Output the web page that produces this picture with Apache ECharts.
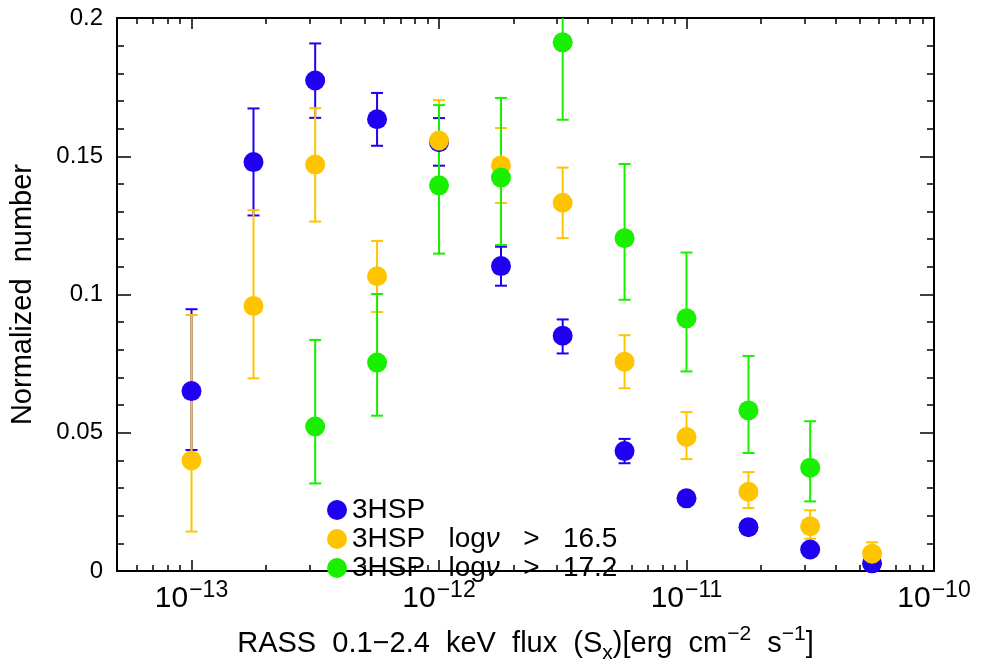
<!DOCTYPE html>
<html>
<head>
<meta charset="utf-8">
<script src="https://cdn.jsdelivr.net/npm/echarts@6/dist/echarts.min.js"></script>
<style>
  html, body { margin: 0; padding: 0; background: #fff; }
  #chart { width: 984px; height: 669px; }
</style>
</head>
<body>
<div id="chart"></div>
<script>
// flux bin centres (erg cm^-2 s^-1)
const fluxBins = [1.0e-13, 1.78e-13, 3.16e-13, 5.62e-13, 1.0e-12, 1.78e-12, 3.16e-12, 5.62e-12, 1.0e-11, 1.78e-11, 3.16e-11, 5.62e-11]

// 3HSP
const allVal = [0.0651, 0.1479, 0.1774, 0.1634, 0.1551, 0.1103, 0.0851, 0.0434, 0.0263, 0.0159, 0.0078, 0.0028]
const allLo  = [0.0438, 0.1286, 0.1639, 0.1538, 0.1466, 0.1032, 0.0787, 0.0390, 0.0243, 0.0145, 0.0068, 0.0020]
const allHi  = [0.0947, 0.1673, 0.1908, 0.1729, 0.1638, 0.1173, 0.0910, 0.0478, 0.0283, 0.0173, 0.0088, 0.0036]

// 3HSP log nu > 16.5
const hspVal = [0.0400, 0.0959, 0.1470, 0.1066, 0.1557, 0.1467, 0.1332, 0.0757, 0.0485, 0.0287, 0.0162, 0.0063]
const hspLo  = [0.0143, 0.0697, 0.1264, 0.0937, 0.1416, 0.1331, 0.1204, 0.0661, 0.0405, 0.0228, 0.0117, 0.0030]
const hspHi  = [0.0926, 0.1305, 0.1674, 0.1194, 0.1703, 0.1602, 0.1459, 0.0853, 0.0575, 0.0358, 0.0220, 0.0104]

// 3HSP log nu > 17.2
const ehspVal = [null, null, 0.0523, 0.0754, 0.1395, 0.1423, 0.1912, 0.1204, 0.0914, 0.0581, 0.0374, null]
const ehspLo  = [null, null, 0.0317, 0.0562, 0.1148, 0.1179, 0.1632, 0.0981, 0.0722, 0.0427, 0.0252, null]
const ehspHi  = [null, null, 0.0836, 0.1002, 0.1685, 0.1711, 0.2200, 0.1472, 0.1152, 0.0778, 0.0542, null]

const seriesNames = ['3HSP', '3HSP   logν   >   16.5', '3HSP   logν   >   17.2']
const colors = ['#2000F0', '#FFC400', '#18F000']

const majorExp = [-13, -12, -11, -10]
const minorMult = [2, 3, 4, 5, 6, 7, 8, 9]

const xMin = Math.log10(5e-14)
const xMax = -10

const minorExp = []
;[-14, -13, -12, -11].forEach(function (e) {
  minorMult.forEach(function (m) {
    const v = e + Math.log10(m)
    if (v > xMin && v < xMax) minorExp.push(v)
  })
})

const FONT = 'Liberation Sans'

function points(vals) {
  return fluxBins.map(function (f, i) {
    return vals[i] == null ? null : [Math.log10(f), vals[i]]
  }).filter(Boolean)
}
function bars(vals, lo, hi) {
  return fluxBins.map(function (f, i) {
    return vals[i] == null ? null : [Math.log10(f), vals[i], lo[i], hi[i]]
  }).filter(Boolean)
}

function errorBarSeries(name, data, color) {
  return {
    type: 'custom',
    name: name,
    data: data,
    clip: true,
    silent: true,
    renderItem: function (params, api) {
      const x = api.value(0)
      const top = api.coord([x, api.value(3)])
      const bot = api.coord([x, api.value(2)])
      const hw = 6
      const style = { stroke: color, lineWidth: 2 }
      return {
        type: 'group',
        children: [
          { type: 'line', shape: { x1: top[0], y1: top[1], x2: bot[0], y2: bot[1] }, style: style },
          { type: 'line', shape: { x1: top[0] - hw, y1: top[1], x2: top[0] + hw, y2: top[1] }, style: style },
          { type: 'line', shape: { x1: bot[0] - hw, y1: bot[1], x2: bot[0] + hw, y2: bot[1] }, style: style }
        ]
      }
    },
    encode: { x: 0, y: 1 }
  }
}

function scatterSeries(name, data, color) {
  return {
    type: 'scatter',
    name: name,
    data: data,
    symbol: 'circle',
    symbolSize: 20,
    clip: false,
    itemStyle: { color: color, opacity: 1 }
  }
}

const groups = [
  [allVal, allLo, allHi],
  [hspVal, hspLo, hspHi],
  [ehspVal, ehspLo, ehspHi]
]
const series = []
groups.forEach(function (g, i) {
  series.push(errorBarSeries('err' + i, bars(g[0], g[1], g[2]), colors[i]))
  series.push(scatterSeries(seriesNames[i], points(g[0]), colors[i]))
})

const axisLineStyle = { color: '#000', width: 2 }

function xAx(position, ticks, len, labels) {
  return {
    type: 'value',
    position: position,
    min: xMin,
    max: xMax,
    axisLine: { show: true, lineStyle: axisLineStyle },
    axisTick: { show: true, inside: true, length: len, customValues: ticks, lineStyle: { color: '#000', width: 1.5 } },
    axisLabel: labels ? {
      show: true,
      customValues: majorExp,
      margin: 8,
      fontFamily: FONT,
      fontSize: 30,
      lineHeight: 40,
      color: '#000',
      formatter: function (v) { return '{b|10}{sup|−' + Math.abs(Math.round(v)) + '}' },
      rich: {
        b: { fontFamily: FONT, fontSize: 30, lineHeight: 40, color: '#000', verticalAlign: 'middle' },
        sup: { fontFamily: FONT, fontSize: 23, lineHeight: 13, color: '#000', verticalAlign: 'top', padding: [0, 0, 0, 1] }
      }
    } : { show: false },
    splitLine: { show: false }
  }
}

const option = {
  animation: false,
  backgroundColor: '#fff',
  grid: { left: 117, right: 50, top: 18, bottom: 93, containLabel: false },
  legend: {
    orient: 'vertical',
    left: 327,
    top: 496,
    padding: 0,
    itemWidth: 20,
    itemHeight: 20,
    itemGap: 1,
    icon: 'circle',
    data: seriesNames,
    selectedMode: false,
    textStyle: {
      fontFamily: FONT,
      fontSize: 28,
      color: '#000',
      lineHeight: 22,
      rich: { i: { fontFamily: FONT, fontSize: 28, fontStyle: 'italic', color: '#000', lineHeight: 22 } }
    },
    formatter: function (name) { return name.replace('ν', '{i|ν}') }
  },
  xAxis: [
    Object.assign(xAx('bottom', majorExp, 11, true), {
      name: '{m|RASS  0.1−2.4  keV  flux  (S}{sub|x}{m|)[erg  cm}{sup|−2}{m|  s}{sup|−1}{m|]}',
      nameLocation: 'middle',
      nameGap: 39,
      nameTextStyle: {
        fontFamily: FONT,
        fontSize: 29,
        lineHeight: 40,
        color: '#000',
        rich: {
          m: { fontFamily: FONT, fontSize: 29, lineHeight: 40, color: '#000', verticalAlign: 'middle' },
          sub: { fontFamily: FONT, fontSize: 21, lineHeight: 16, color: '#000', verticalAlign: 'bottom' },
          sup: { fontFamily: FONT, fontSize: 21, lineHeight: 14, color: '#000', verticalAlign: 'top' }
        }
      }
    }),
    xAx('bottom', minorExp, 6, false),
    xAx('top', majorExp, 11, false),
    xAx('top', minorExp, 6, false)
  ],
  yAxis: [
    {
      type: 'value',
      position: 'left',
      min: 0,
      max: 0.2,
      interval: 0.05,
      name: 'Normalized  number',
      nameLocation: 'middle',
      nameRotate: 90,
      nameGap: 80,
      nameTextStyle: { fontFamily: FONT, fontSize: 29, color: '#000' },
      axisLine: { show: true, lineStyle: axisLineStyle },
      axisTick: { show: true, inside: true, length: 14, lineStyle: { color: '#000', width: 1.5 } },
      minorTick: { show: true, splitNumber: 5, length: 7, lineStyle: { color: '#000', width: 1.5 } },
      axisLabel: { margin: 14, fontFamily: FONT, fontSize: 24, color: '#000' },
      splitLine: { show: false },
      minorSplitLine: { show: false }
    },
    {
      type: 'value',
      position: 'right',
      min: 0,
      max: 0.2,
      interval: 0.05,
      axisLine: { show: true, lineStyle: axisLineStyle },
      axisTick: { show: true, inside: true, length: 14, lineStyle: { color: '#000', width: 1.5 } },
      minorTick: { show: true, splitNumber: 5, length: 7, lineStyle: { color: '#000', width: 1.5 } },
      axisLabel: { show: false },
      splitLine: { show: false },
      minorSplitLine: { show: false }
    }
  ],
  series: series
}

const chart = echarts.init(document.getElementById('chart'))
chart.setOption(option)
</script>
</body>
</html>
